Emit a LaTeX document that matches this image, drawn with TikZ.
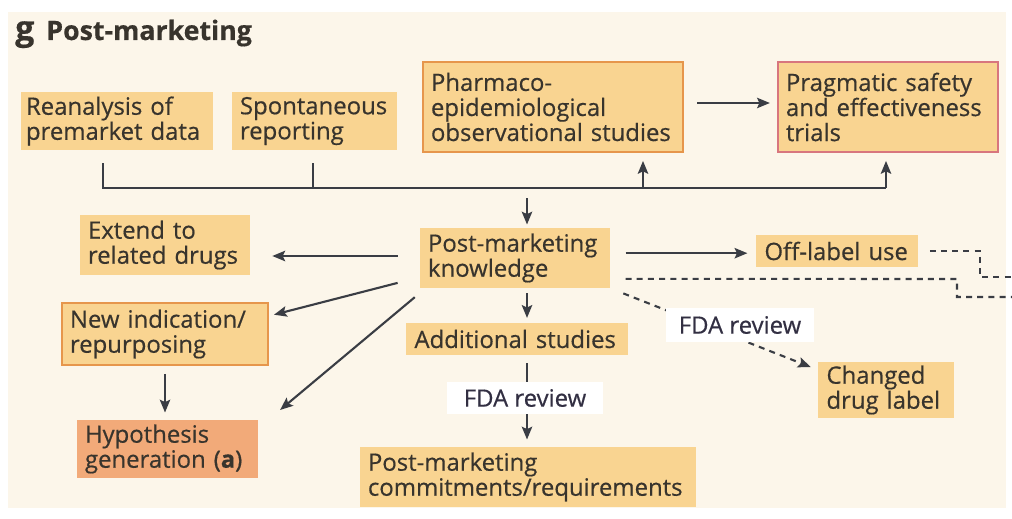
\documentclass[tikz,border=0pt]{standalone}
\usepackage{fontspec}
\setmainfont{Open Sans}[FakeBold=0.5]
\usetikzlibrary{arrows.meta}

\definecolor{creme}{HTML}{FCF6EA}
\definecolor{boxgelb}{HTML}{F9D491}
\definecolor{hypofarbe}{HTML}{F2AA79}
\definecolor{randorange}{HTML}{E6964C}
\definecolor{randrosa}{HTML}{D8767E}
\definecolor{schrift}{HTML}{38342D}
\definecolor{linie}{HTML}{3A3D44}

\begin{document}
\begin{tikzpicture}[x=0.025cm,y=-0.025cm,
    box/.style={fill=boxgelb, text=schrift, align=left, inner xsep=0.2cm, inner ysep=0pt,
                font=\fontsize{17}{17.8}\selectfont},
    randbox/.style={box, draw=randorange, line width=1.3pt},
    rosabox/.style={box, draw=randrosa, line width=1.3pt},
    hypobox/.style={box, fill=hypofarbe},
    pruefung/.style={fill=white, text=schrift!90!blue, inner sep=0pt,
                     font=\fontsize{17}{17.8}\selectfont},
    linienzug/.style={draw=linie, line width=1.5pt},
    pfeil/.style={linienzug, -{Stealth[length=0.32cm, width=0.26cm, inset=0.06cm]}},
    strichlinie/.style={draw=linie, line width=1.5pt, dash pattern=on 0.15cm off 0.13cm},
    strichpfeil/.style={strichlinie, -{Stealth[length=0.32cm, width=0.26cm, inset=0.06cm]}}
]
    % Hintergrund
    \useasboundingbox (0,0) rectangle (1012,519);
    \fill[white] (0,0) rectangle (1012,519);
    \fill[creme] (8,12) rectangle (1006,508);

    % Titel
    \node[anchor=base west, inner sep=0pt, text=schrift, font=\fontsize{19}{21}\selectfont\bfseries]
        (titel) at (15,40) {{\fontsize{24}{24}\selectfont g}\hspace{0.3cm}Post-marketing};

    % Obere Reihe
    \node[box, inner xsep=0.12cm, text width=4.55cm, minimum height=1.45cm] (rean) at (117,121) {Reanalysis of\\premarket data};
    \node[box, text width=3.725cm, minimum height=1.45cm] (spont) at (314.5,121) {Spontaneous\\reporting};
    \node[randbox, text width=6.1cm, minimum height=2.25cm] (pharm) at (553,107) {Pharmaco-\\epidemiological\\observational studies};
    \node[rosabox, text width=5.1cm, minimum height=2.25cm] (prag) at (888,107) {Pragmatic safety\\and effectiveness\\trials};

    % Mittlere Reihe
    \node[box, text width=3.85cm, minimum height=1.5cm] (extend) at (165,245) {Extend to\\related drugs};
    \node[box, text width=4.35cm, minimum height=1.5cm] (pmk) at (515,258) {Post-marketing\\knowledge};
    \node[box, text width=3.625cm, minimum height=0.8cm] (off) at (837,251) {Off-label use};

    % Untere Reihe
    \node[randbox, text width=4.75cm, minimum height=1.55cm] (newind) at (165,334) {New indication/\\repurposing};
    \node[hypobox, text width=4.125cm, minimum height=1.45cm] (hypo) at (167.5,449) {Hypothesis\\generation (\textbf{a})};
    \node[box, text width=5.125cm, minimum height=0.8cm] (add) at (517,339) {Additional studies};
    \node[box, text width=8cm, minimum height=1.5cm] (commit) at (528,477) {Post-marketing\\commitments/requirements};
    \node[box, text width=2.975cm, minimum height=1.4cm] (changed) at (886,390) {Changed\\drug label};

    % Hilfspunkte
    \coordinate (busL) at (103,188);
    \coordinate (busM) at (527,188);
    \coordinate (busA) at (643,188);
    \coordinate (busR) at (886,188);
    \coordinate (offK) at (980,251);
    \coordinate (offE) at (1012,277);
    \coordinate (pmkK) at (957,279);
    \coordinate (pmkE) at (1012,297);

    % Sammelschiene
    \draw[linienzug, shorten <=0.32cm] (busL |- rean.south) -- (busL) -- (busR);
    \draw[linienzug, shorten <=0.32cm] (spont.south -| 313,0) -- (313,188);
    \draw[pfeil, shorten >=0.2cm] (busA) -- (busA |- pharm.south);
    \draw[pfeil, shorten >=0.2cm] (busR) -- (busR |- prag.south);
    \draw[pfeil, shorten <=0.25cm, shorten >=0.08cm] (busM) -- (busM |- pmk.north);
    \draw[pfeil, shorten <=0.33cm, shorten >=0.18cm] ([yshift=0.1cm]pharm.east) -- ([yshift=0.1cm]pharm.east -| prag.west);

    % Pfeile aus dem Wissen
    \draw[pfeil, shorten <=0.55cm, shorten >=0.55cm] ([yshift=0.05cm]pmk.west) -- ([yshift=0.05cm]pmk.west -| extend.east);
    \draw[pfeil, shorten <=0.38cm, shorten >=0.22cm] ([yshift=0.12cm]pmk.east) -- ([yshift=0.12cm]pmk.east -| off.west);
    \draw[pfeil, shorten <=0.57cm, shorten >=0.13cm] ([yshift=-0.48cm]pmk.west) -- ([yshift=0.45cm]newind.east);
    \draw[pfeil, shorten <=0.16cm, shorten >=0.71cm] ([yshift=-0.12cm]pmk.south west) -- ([yshift=0.52cm]hypo.east);
    \draw[pfeil, shorten <=0.2cm, shorten >=0.18cm] (newind.south) -- (newind.south |- hypo.north);
    \draw[pfeil, shorten <=0.12cm, shorten >=0.12cm] (busM |- pmk.south) -- (busM |- add.north);
    \draw[pfeil, shorten <=0.2cm, shorten >=0.18cm] (busM |- add.south) -- (busM |- commit.north);

    % Gestrichelte Linien
    \draw[strichpfeil, shorten <=0.35cm, shorten >=0.2cm] (pmk.south east) -- ([yshift=0.5cm]changed.west);
    \draw[strichlinie, shorten <=0.3cm] (off.east) -- (offK) |- (offE);
    \draw[strichlinie, shorten <=0.38cm] ([yshift=-0.52cm]pmk.east) -- (pmkK) |- (pmkE);

    % FDA-Beschriftungen
    \node[pruefung, minimum width=3.875cm, minimum height=0.8cm] (fdaA) at (525,398) {FDA review};
    \node[pruefung, minimum width=3.7cm, minimum height=0.85cm] (fdaB) at (740,325) {FDA review};
\end{tikzpicture}
\end{document}
